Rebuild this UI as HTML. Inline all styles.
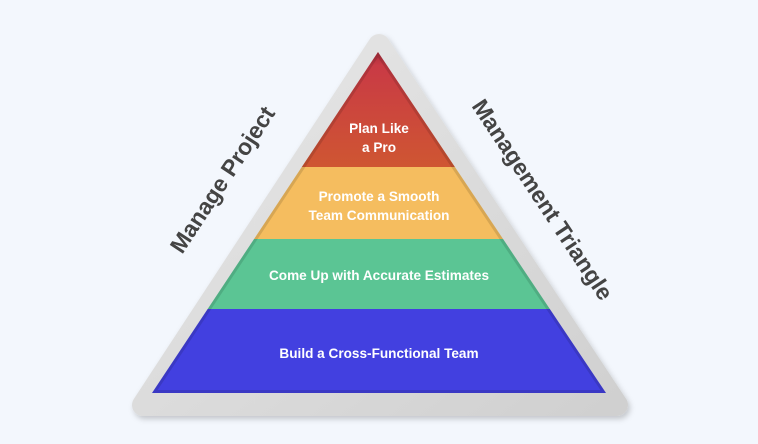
<!DOCTYPE html>
<html><head><meta charset="utf-8"><style>
html,body{margin:0;padding:0;background:#f3f7fd;}
svg{display:block;}
text{font-family:"Liberation Sans",Arial,sans-serif;font-weight:bold;}
</style></head><body>
<svg width="758" height="444" viewBox="0 0 758 444" xmlns="http://www.w3.org/2000/svg">
<defs>
<linearGradient id="red" x1="0" y1="0" x2="0" y2="1">
<stop offset="0" stop-color="#8e1f30"/><stop offset="0.2" stop-color="#c93a45"/><stop offset="1" stop-color="#cf5632"/>
</linearGradient>
<linearGradient id="frame" x1="0" y1="0" x2="1" y2="1">
<stop offset="0" stop-color="#e8e8e8"/><stop offset="1" stop-color="#d0d0d0"/>
</linearGradient>
<filter id="sh" x="-10%" y="-10%" width="120%" height="120%"><feDropShadow dx="2" dy="3" stdDeviation="3" flood-color="#000" flood-opacity="0.2"/></filter>
<clipPath id="tri"><polygon points="378,52 152,393 606,393"/></clipPath>
</defs>
<polygon points="379,45 143,405 617,405" fill="url(#frame)" stroke="url(#frame)" stroke-width="22" stroke-linejoin="round" filter="url(#sh)"/>
<g clip-path="url(#tri)">
<rect x="140" y="40" width="480" height="127" fill="url(#red)"/>
<rect x="140" y="167" width="480" height="72" fill="#f5bd5f"/>
<rect x="140" y="239" width="480" height="70" fill="#5bc594"/>
<rect x="140" y="309" width="480" height="90" fill="#4240e0"/>
<polygon points="378,52 152,393 606,393" fill="none" stroke="#000" stroke-opacity="0.12" stroke-width="6"/>
</g>
<g fill="#fff" font-size="13.6" text-anchor="middle">
<text x="379" y="133">Plan Like</text>
<text x="379" y="152">a Pro</text>
<text x="379" y="201">Promote a Smooth</text>
<text x="379" y="220">Team Communication</text>
<text x="379" y="280">Come Up with Accurate Estimates</text>
<text x="379" y="358">Build a Cross-Functional Team</text>
</g>
<g fill="#444" font-size="23" text-anchor="middle">
<text transform="translate(229,184) rotate(-56.5)">Manage Project</text>
<text transform="translate(536,204) rotate(56.5)">Management Triangle</text>
</g>
</svg>
</body></html>
